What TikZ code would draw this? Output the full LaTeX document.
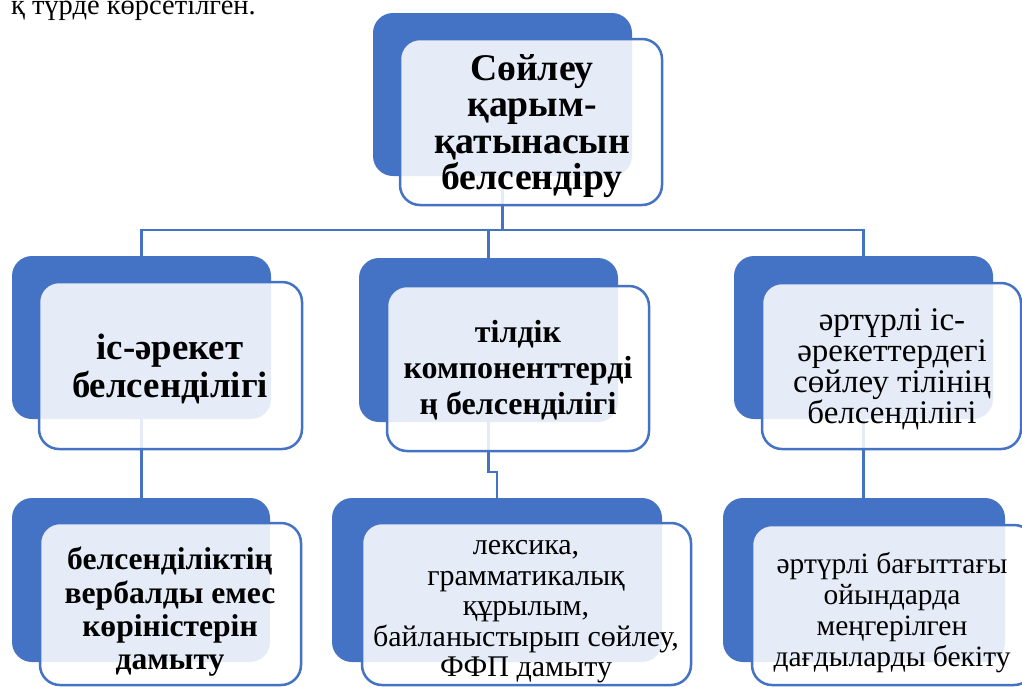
\documentclass[tikz,border=0pt]{standalone}
\usepackage{fontspec}
\setmainfont{Liberation Serif}
\definecolor{acc}{HTML}{4472C4}
\begin{document}
\begin{tikzpicture}[x=1pt,y=-1pt,
  backbox/.style={fill=acc, draw=none, rounded corners=20pt, inner sep=0pt},
  frontbox/.style={fill=white, fill opacity=0.87, text opacity=1, draw=acc, line width=2.5pt, rounded corners=20pt, inner sep=0pt},
  link/.style={draw=acc, line width=2.5pt},
  lbl/.style={align=center, inner sep=0pt, text=black}]
\useasboundingbox (0,0) rectangle (1022,686);

% caption fragment at the top
\node[anchor=base east, inner sep=0pt, font=\fontsize{28.5}{34}\selectfont] (cap) at (256,14) {қ түрде көрсетілген.};

% back boxes
\node[backbox, minimum width=259pt, minimum height=163pt] (b0) at (502.5,94.5) {};
\node[backbox, minimum width=259pt, minimum height=163pt] (b1) at (141.5,337.5) {};
\node[backbox, minimum width=259pt, minimum height=164pt] (b2) at (488.5,340) {};
\node[backbox, minimum width=259pt, minimum height=163pt] (b3) at (863.5,337.5) {};
\node[backbox, minimum width=258pt, minimum height=164pt] (c1) at (141,580) {};
\node[backbox, minimum width=330pt, minimum height=164pt] (c2) at (497,580) {};
\node[backbox, minimum width=282pt, minimum height=164pt] (c3) at (864,580) {};

% connectors
\coordinate (bus) at (0,230);
\coordinate (jog) at (0,472);
\draw[link] (b0.south) -- (b0.south |- bus) -| (b1.north);
\draw[link] (b0.south |- bus) -| (b2.north);
\draw[link] (b0.south |- bus) -| (b3.north);
\draw[link] (b1.south) -- (b1.south |- c1.north);
\draw[link] (b2.south) -- (b2.south |- jog) -| (c2.north);
\draw[link] (b3.south) -- (b3.south |- c3.north);

% front boxes
\node[frontbox, minimum width=262pt, minimum height=166pt] (f0) at (531,122) {};
\node[frontbox, minimum width=263pt, minimum height=167pt] (f1) at (170.5,365.5) {};
\node[frontbox, minimum width=262pt, minimum height=165pt] (f2) at (518,368.5) {};
\node[frontbox, minimum width=259pt, minimum height=166pt] (f3) at (891.5,366) {};
\node[frontbox, minimum width=261pt, minimum height=162pt] (g1) at (170.5,604) {};
\node[frontbox, minimum width=329pt, minimum height=162pt] (g2) at (526.5,604) {};
\node[frontbox, minimum width=282pt, minimum height=160pt] (g3) at (893,605) {};

% texts
\node[lbl, font=\bfseries\fontsize{37.7}{36.5}\selectfont] (t0) at (532,126) {Сөйлеу\\қарым-\\қатынасын\\белсендіру};
\node[lbl, font=\bfseries\fontsize{36.8}{38.5}\selectfont] (t1) at (170,369) {іс-әрекет\\белсенділігі};
\node[lbl, font=\bfseries\fontsize{32}{36}\selectfont] (t2) at (518,370) {тілдік\\компоненттерді\\ң белсенділігі};
\node[lbl, font=\fontsize{33}{31}\selectfont] (t3) at (892,369) {әртүрлі іс-\\әрекеттердегі\\сөйлеу тілінің\\белсенділігі};
\node[lbl, font=\bfseries\fontsize{31.6}{33.3}\selectfont] (u1) at (170,612) {белсенділіктің\\вербалды емес\\көріністерін\\дамыту};
\node[lbl, font=\fontsize{30}{30.5}\selectfont] (u2) at (526,612) {лексика,\\грамматикалық\\құрылым,\\байланыстырып сөйлеу,\\ФФП дамыту};
\node[lbl, font=\fontsize{29.5}{31}\selectfont] (u3) at (892,613) {әртүрлі бағыттағы\\ойындарда\\меңгерілген\\дағдыларды бекіту};
\end{tikzpicture}
\end{document}
